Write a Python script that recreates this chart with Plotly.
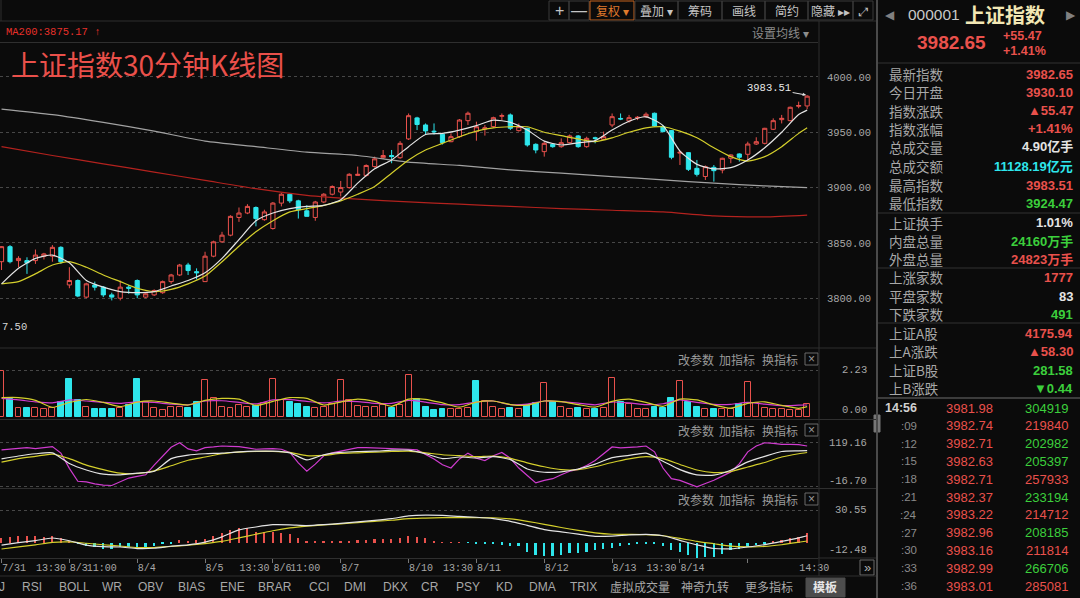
import plotly.graph_objects as go

W, H = 1080, 598

# colours
BG = '#0b0b0b'
RED = '#e9514c'
DARKRED = '#b3221e'
CYAN = '#2ee6ec'
GREEN = '#3ccf3c'
WHITE = '#e4e4e4'
YELLOW = '#d4cf2c'
MAGENTA = '#d03cd0'
GREY = '#a2a2a2'
GRID = '#474747'
LINE = '#2f2f2f'
AXIS_TXT = '#a8a8a8'
LABEL_TXT = '#a8a8a8'

MONO = 'Liberation Mono, DejaVu Sans Mono, monospace'
SANS = 'Liberation Sans, Arial, sans-serif'
CJK = 'Noto Sans CJK SC, sans-serif'

# ---- 30 minute bars ----
bar_open = [3833, 3846.6, 3834, 3834, 3834, 3838, 3838, 3846, 3812, 3816,
            3801, 3812, 3810, 3803, 3800, 3810, 3816, 3801, 3803, 3805,
            3815, 3821, 3830, 3824, 3815, 3838, 3851, 3857, 3873, 3877,
            3882, 3871, 3863, 3886, 3894, 3888, 3879, 3873, 3887, 3894,
            3896, 3900, 3911, 3911, 3919, 3927, 3929, 3927, 3944, 3963,
            3956.6, 3951, 3948.2, 3941.5, 3946, 3960.5, 3950.6, 3953, 3955.1, 3964.5,
            3965.7, 3951.5, 3953.6, 3939.1, 3932.5, 3939.1, 3937, 3940.6, 3946.7, 3937,
            3945, 3943.6, 3956.6, 3962.5, 3960.2, 3962.9, 3964.1, 3967.2, 3955.1, 3951.5,
            3931.2, 3931.6, 3917.4, 3910, 3918.3, 3915.9, 3926.5, 3930.4, 3930.1, 3939.4,
            3940, 3952.7, 3961.4, 3960.5, 3973.5, 3973.8]
bar_high = [3847, 3848, 3838, 3837, 3844, 3841, 3848, 3847, 3828, 3817,
            3814, 3815, 3811, 3805, 3816, 3812, 3817, 3805, 3808, 3816,
            3822, 3831, 3832, 3827, 3842, 3852, 3860, 3875, 3882, 3885,
            3883, 3880, 3887, 3895, 3895, 3889, 3884, 3888, 3895, 3902,
            3906, 3913, 3919, 3921, 3928, 3934, 3934, 3942, 3967, 3964,
            3958, 3958, 3949, 3949, 3962, 3968.7, 3959.6, 3956.6, 3964.1, 3967,
            3967, 3958, 3954, 3940, 3941.5, 3940, 3944.5, 3948, 3947.5, 3946,
            3946, 3950.6, 3967, 3967, 3965.7, 3964.7, 3968, 3967.8, 3956.6, 3952,
            3933.4, 3932, 3925, 3920, 3920.4, 3927, 3930, 3931, 3941.5, 3945.5,
            3954, 3962.6, 3965.7, 3973.2, 3977.7, 3983.51]
bar_low = [3825.5, 3831.5, 3828, 3822, 3831, 3835, 3833, 3831, 3809, 3801,
           3800, 3807, 3801, 3798, 3798, 3804, 3800, 3800, 3802, 3804,
           3813, 3820, 3821, 3817, 3815, 3837, 3850, 3856, 3869, 3876,
           3865, 3870, 3862, 3883, 3886, 3872, 3874, 3870, 3886, 3893,
           3892, 3899, 3911, 3910, 3918, 3926, 3922, 3926, 3943, 3952,
           3947.6, 3948, 3939, 3941, 3945, 3956.6, 3942.4, 3947, 3954, 3961,
           3952, 3950.6, 3937, 3931, 3928, 3936, 3936, 3940, 3936, 3936,
           3940, 3943, 3954.5, 3961, 3958.7, 3961, 3963, 3955, 3950, 3925.6,
           3920.4, 3915, 3910, 3906.9, 3905.4, 3912.9, 3922, 3923.5, 3924.47, 3938.5,
           3939, 3952, 3958, 3960, 3971.7, 3970.8]
bar_close = [3846.6, 3833, 3836, 3832, 3839, 3840, 3846, 3833, 3816, 3802,
             3813, 3810, 3803, 3801, 3810, 3809, 3803, 3804, 3807, 3815,
             3821, 3830, 3825, 3823, 3838, 3851, 3857, 3874, 3877, 3883,
             3872, 3878, 3886, 3894, 3888, 3880, 3874, 3887, 3894, 3901,
             3900, 3912, 3912, 3920, 3926, 3929, 3928, 3940, 3965, 3957,
             3951.2, 3950.5, 3940.6, 3946, 3961.1, 3967.2, 3955, 3954, 3963.2, 3965,
             3953.6, 3955.1, 3938.5, 3934, 3940, 3937, 3940.6, 3946.7, 3937, 3944.5,
             3944.5, 3946, 3964.1, 3962, 3963.2, 3963.5, 3966.3, 3955.7, 3950.6, 3927.4,
             3931.9, 3916.5, 3912, 3918.9, 3915.3, 3926.5, 3929.5, 3927.4, 3939.4, 3941.5,
             3953.6, 3960.5, 3962.6, 3972.6, 3974.2, 3982.65]
bar_idx = list(range(len(bar_close)))

# volume (亿), 1 = red bar, 0 = cyan bar
vol = [2.18, 0.85, 0.46, 0.42, 0.42, 0.39, 0.42, 0.74, 1.81, 0.82,
       0.50, 0.38, 0.38, 0.38, 0.42, 0.58, 1.81, 0.71, 0.46, 0.35,
       0.50, 0.50, 0.46, 0.71, 1.76, 0.89, 0.50, 0.46, 0.58, 0.50,
       0.53, 0.66, 1.81, 0.82, 0.71, 0.61, 0.47, 0.46, 0.50, 0.61,
       1.76, 0.82, 0.53, 0.50, 0.50, 0.58, 0.46, 0.58, 2.00, 0.85,
       0.50, 0.35, 0.39, 0.39, 0.39, 0.42, 1.71, 0.77, 0.50, 0.39,
       0.46, 0.39, 0.58, 0.66, 1.60, 0.71, 0.50, 0.39, 0.46, 0.39,
       0.39, 0.42, 1.84, 0.74, 0.61, 0.39, 0.39, 0.50, 0.46, 0.89,
       1.73, 0.74, 0.47, 0.39, 0.39, 0.39, 0.39, 0.61, 1.68, 0.66,
       0.42, 0.39, 0.39, 0.35, 0.35, 0.61]
vol_up = [1, 0, 1, 0, 1, 1, 1, 0, 0, 0,
          1, 0, 0, 0, 1, 0, 0, 1, 1, 1,
          1, 1, 0, 0, 1, 1, 1, 1, 1, 1,
          0, 1, 1, 1, 0, 0, 0, 1, 1, 1,
          1, 1, 1, 1, 1, 1, 0, 1, 1, 0,
          0, 0, 0, 1, 1, 1, 0, 1, 1, 1,
          0, 1, 0, 0, 1, 0, 1, 1, 0, 1,
          0, 1, 1, 0, 1, 1, 1, 0, 0, 0,
          1, 0, 0, 1, 0, 1, 1, 0, 1, 1,
          1, 1, 1, 1, 1, 1]

# sampled indicator lines (bar index -> value)
ma_idx = [0, 2, 4, 6, 8, 10, 12, 14, 16, 18, 20, 22, 24, 26, 28, 30, 32, 34, 36, 38,
          40, 42, 44, 46, 48, 50, 52, 54, 56, 58, 60, 62, 64, 66, 68, 70, 72, 74, 76, 78,
          80, 82, 84, 86, 88, 90, 92, 94, 95]
ma5 = [3813, 3827, 3836, 3839, 3832, 3816, 3810, 3806, 3805, 3806,
       3811, 3816, 3823, 3836, 3853, 3870, 3877, 3881, 3883, 3884,
       3889, 3904, 3917, 3925, 3937, 3948, 3949, 3952, 3956, 3961,
       3959, 3952, 3942, 3938.5, 3940.5, 3942.5, 3952, 3960, 3964, 3956,
       3933, 3921, 3917, 3918, 3925, 3936, 3950, 3966, 3970]
ma10 = [3813, 3815, 3822, 3830, 3833, 3828, 3821, 3815, 3809, 3806,
        3808, 3813, 3820, 3833, 3847, 3860, 3870, 3878, 3881, 3884,
        3888, 3894, 3901, 3913, 3925, 3934, 3940, 3946, 3951, 3954,
        3955, 3955, 3950, 3947, 3944, 3941.5, 3945, 3950, 3954, 3955,
        3951, 3945, 3936, 3928, 3924, 3928, 3937, 3949, 3954]
long_idx = [0, 6, 12, 18, 24, 30, 36, 42, 48, 54, 60, 66, 72, 78, 84, 90, 95]
ma60 = [3971, 3966, 3959, 3951, 3942, 3937, 3932, 3929, 3923, 3920,
        3916, 3913, 3910, 3907, 3904, 3901.5, 3900]
ma200 = [3937, 3929, 3921.5, 3914, 3906.5, 3899, 3893, 3889.5, 3887, 3885,
         3883, 3881, 3879.5, 3878, 3874.5, 3873.5, 3875.17]

vol_ma5 = [0.93, 0.93, 0.80, 0.47, 0.70, 0.84, 0.70, 0.50, 0.72, 0.77,
           0.67, 0.58, 0.80, 0.89, 0.86, 0.56, 0.75, 0.93, 0.89, 0.58,
           0.72, 0.86, 0.75, 0.52, 0.86, 0.85, 0.68, 0.48, 0.72, 0.77,
           0.60, 0.57, 0.77, 0.74, 0.60, 0.48, 0.75, 0.86, 0.70, 0.52,
           0.86, 0.82, 0.58, 0.43, 0.66, 0.73, 0.56, 0.42, 0.50]
vol_ma10 = [0.89, 0.82, 0.73, 0.68, 0.82, 0.77, 0.70, 0.66, 0.73, 0.70,
            0.62, 0.59, 0.77, 0.78, 0.70, 0.63, 0.82, 0.83, 0.75, 0.68,
            0.76, 0.74, 0.66, 0.66, 0.80, 0.72, 0.60, 0.60, 0.72, 0.77,
            0.60, 0.62, 0.77, 0.74, 0.67, 0.59, 0.72, 0.68, 0.60, 0.64,
            0.82, 0.70, 0.61, 0.61, 0.70, 0.62, 0.55, 0.57, 0.58]

kdj_k = [69, 78, 85, 88, 55, 35, 22, 20, 25, 31,
         70, 81, 85, 87, 91, 93, 93, 88, 66, 82,
         89, 92, 93, 96, 96, 85, 70, 75, 72, 76,
         67, 38, 28, 29, 38, 53, 73, 80, 87, 62,
         36, 20, 19, 34, 60, 77, 92, 94, 95]
kdj_d = [59, 70, 77, 84, 70, 50, 36, 25, 24, 32,
         48, 65, 75, 85, 90, 92, 92, 89, 79, 80,
         86, 88, 90, 92, 93, 88, 82, 79, 76, 78,
         71, 57, 45, 36, 36, 45, 58, 69, 76, 70,
         52, 35, 27, 30, 44, 58, 75, 85, 89]
kdj_j = [97, 100, 103, 104, 101, 104, 107, 87, 40, 0,
         -2, -8, -12, -13, -2, 10, 15, 20, 50, 78,
         105, 119, 100, 94, 104, 106, 109, 108, 107, 103,
         99, 100, 101, 99, 89, 57, 31, 53, 79, 88,
         94, 100, 104, 104, 103, 103, 103, 101, 99, 97,
         84, 69, 51, 41, 69, 87, 71, 64, 79, 89,
         71, 41, 18, -5, 3, 8, 20, 31, 37, 49,
         64, 84, 106, 103, 104, 106, 109, 91, 41, 8,
         3, -7, -17, -7, 3, 16, 29, 54, 91, 109,
         119, 117, 114, 114, 113, 109]

macd_dif = [-2.2, 0, 2, 4.4, 1.8, -2.2, -3.7, -4.0, -5.5, -5.2,
            -3.3, -2.0, 0.6, 5.5, 12, 14.7, 16.8, 16.7, 16.0, 16.8,
            18.1, 19.4, 20.8, 22.5, 25, 25.8, 25.5, 24.6, 23.8, 22.5,
            20, 16.2, 12.3, 10.1, 8, 6, 6.2, 7.2, 7.8, 6.5,
            2.2, -2.1, -5.4, -5.7, -4, -1.8, 1.2, 4.5, 6.5]
macd_dea = [-5.9, -3.9, -2, 0.3, 0.7, -0.5, -1.9, -3.1, -4.5, -4.5,
            -3.5, -2.4, -0.8, 1.2, 4.5, 7.9, 11.2, 13.8, 15.5, 16.7,
            17.6, 18.8, 20, 21, 22.5, 23, 23.4, 23.4, 23.4, 23.3,
            22.3, 20, 17.2, 14.2, 11.5, 9.2, 7.9, 7.8, 7.6, 6.5,
            4.1, 1.2, -1, -3.2, -3.8, -3.5, -1.9, 0.4, 1.6]
macd_hist = [4.7, 5.6, 6.5, 6.5, 6.5, 5.6, 6.5, 4.1, 0.9, -1.6,
             -3.1, -3.7, -5.9, -5.9, -3.7, -3.7, -5.3, -3.7, -3.1, -1.6,
             -0.3, 2.5, 1.6, 2.5, 3.1, 6.2, 8.7, 11.8, 13.4, 13.4,
             10.3, 9.7, 9.7, 8.7, 7.8, 4.7, 1.6, 0.9, 0.9, 0.9,
             1.6, 1.6, 2.5, 2.5, 3.1, 3.1, 3.4, 4.7, 6.2, 5.6,
             4.7, 1.6, 0.4, 0.3, 0.1, -0.1, -0.8, -1.0, -1.5, -1.8,
             -3.4, -2.8, -9.0, -11.5, -12.2, -12.5, -11.5, -10.0, -10.0, -8.4,
             -6.9, -5.9, -4.7, -3.1, -2.2, -1.6, -1.2, -1.2, -2.8, -6.9,
             -8.4, -11.5, -14.0, -13.4, -13.0, -11.0, -6.9, -5.9, -3.7, -2.2,
             -0.5, 0.9, 2.5, 4.1, 5.6, 8.7]

# axis labels
price_ticks = [3800, 3850, 3900, 3950, 4000]
day_start_idx = [0, 8, 16, 24, 32, 40, 48, 56, 64, 72, 80, 88]
x_tick_idx = [0, 4, 8, 10, 16, 24, 28, 32, 34, 40, 48, 52, 56, 64, 72, 76, 80, 94]
x_tick_text = ['7/31', '13:30', '8/3', '11:00', '8/4', '8/5', '13:30', '8/6', '11:00', '8/7',
               '8/10', '13:30', '8/11', '8/12', '8/13', '13:30', '8/14', '14:30']

# right hand quote panel
quote_labels = ['最新指数', '今日开盘', '指数涨跌', '指数涨幅', '总成交量', '总成交额', '最高指数', '最低指数',
                '上证换手', '内盘总量', '外盘总量', '上涨家数', '平盘家数', '下跌家数',
                '上证A股', '上A涨跌', '上证B股', '上B涨跌']
quote_values = ['3982.65', '3930.10', '▲55.47', '+1.41%', '4.90亿手', '11128.19亿元', '3983.51', '3924.47',
                '1.01%', '24160万手', '24823万手', '1777', '83', '491',
                '4175.94', '▲58.30', '281.58', '▼0.44']
quote_colors = ['r', 'r', 'r', 'r', 'w', 'c', 'r', 'g', 'w', 'g', 'r', 'r', 'w', 'g', 'r', 'r', 'g', 'g']
quote_rows_y = [74, 92, 111, 129, 147, 166, 185, 203, 223, 241, 259, 277, 296, 314, 333, 351, 370, 388]

tick_times = ['14:56', ':09', ':12', ':15', ':18', ':21', ':24', ':27', ':30', ':33', ':36']
tick_prices = ['3981.98', '3982.74', '3982.71', '3982.63', '3982.71', '3982.37',
               '3983.22', '3982.96', '3983.16', '3982.99', '3983.01']
tick_vols = ['304919', '219840', '202982', '205397', '257933', '233194',
             '214712', '208185', '211814', '266706', '285081']
tick_vol_colors = ['g', 'r', 'g', 'g', 'r', 'g', 'r', 'g', 'r', 'g', 'r']

tabs = ['J', 'RSI', 'BOLL', 'WR', 'OBV', 'BIAS', 'ENE', 'BRAR', 'CCI', 'DMI', 'DKX', 'CR',
        'PSY', 'KD', 'DMA', 'TRIX', '虚拟成交量', '神奇九转', '更多指标', '模板']
tab_x = [2, 32, 74, 112, 150, 191, 232, 275, 319, 355, 395, 430, 468, 504, 542, 583, 640, 705, 769, 825]

COL = {'r': RED, 'g': GREEN, 'w': WHITE, 'c': CYAN}


def px(x):
    return x / W


def py(y):
    return 1 - y / H


annotations = []
shapes = []


def text(x, y, s, size=12, color=LABEL_TXT, family=CJK, anchor='center', weight='normal'):
    annotations.append(dict(x=px(x), y=py(y), xref='paper', yref='paper', text=s, showarrow=False,
                            xanchor=anchor, yanchor='middle',
                            font=dict(size=size, color=color, family=family, weight=weight)))


def hline(y, x0, x1, color=LINE, width=1):
    shapes.append(dict(type='line', xref='paper', yref='paper', x0=px(x0), x1=px(x1), y0=py(y), y1=py(y),
                       line=dict(color=color, width=width)))


def vline(x, y0, y1, color=LINE, width=1):
    shapes.append(dict(type='line', xref='paper', yref='paper', x0=px(x), x1=px(x), y0=py(y0), y1=py(y1),
                       line=dict(color=color, width=width)))


def box(x0, y0, x1, y1, color=LINE, fill=None):
    shapes.append(dict(type='rect', xref='paper', yref='paper', x0=px(x0), x1=px(x1), y0=py(y1), y1=py(y0),
                       line=dict(color=color, width=1), fillcolor=fill, layer='below'))


fig = go.Figure()

# main k-line panel
fig.add_trace(go.Candlestick(
    x=bar_idx, open=bar_open, high=bar_high, low=bar_low, close=bar_close,
    increasing=dict(line=dict(color=RED, width=1), fillcolor=BG),
    decreasing=dict(line=dict(color=CYAN, width=1), fillcolor=CYAN),
    hoverinfo='skip', showlegend=False, xaxis='x', yaxis='y'))
for xs, ys, c in [(long_idx, ma200, DARKRED), (long_idx, ma60, GREY), (ma_idx, ma10, YELLOW), (ma_idx, ma5, WHITE)]:
    fig.add_trace(go.Scatter(x=xs, y=ys, mode='lines', line=dict(color=c, width=1.2, shape='spline', smoothing=0.6),
                             hoverinfo='skip', showlegend=False, xaxis='x', yaxis='y'))

# volume panel
fig.add_trace(go.Bar(
    x=bar_idx, y=vol, width=0.7,
    marker=dict(color=[BG if u else CYAN for u in vol_up],
                line=dict(color=[RED if u else CYAN for u in vol_up], width=1)),
    hoverinfo='skip', showlegend=False, xaxis='x2', yaxis='y2'))
for ys, c in [(vol_ma10, MAGENTA), (vol_ma5, YELLOW)]:
    fig.add_trace(go.Scatter(x=ma_idx, y=ys, mode='lines', line=dict(color=c, width=1.2, shape='spline', smoothing=0.6),
                             hoverinfo='skip', showlegend=False, xaxis='x2', yaxis='y2'))

# KDJ panel
fig.add_trace(go.Scatter(x=bar_idx, y=kdj_j, mode='lines', line=dict(color=MAGENTA, width=1.2),
                         hoverinfo='skip', showlegend=False, xaxis='x3', yaxis='y3'))
for ys, c in [(kdj_d, YELLOW), (kdj_k, WHITE)]:
    fig.add_trace(go.Scatter(x=ma_idx, y=ys, mode='lines', line=dict(color=c, width=1.2, shape='spline', smoothing=0.6),
                             hoverinfo='skip', showlegend=False, xaxis='x3', yaxis='y3'))

# MACD panel
fig.add_trace(go.Bar(x=bar_idx, y=macd_hist, width=0.2,
                     marker=dict(color=[RED if v > 0 else CYAN for v in macd_hist], line=dict(width=0)),
                     hoverinfo='skip', showlegend=False, xaxis='x4', yaxis='y4'))
for ys, c in [(macd_dea, YELLOW), (macd_dif, WHITE)]:
    fig.add_trace(go.Scatter(x=ma_idx, y=ys, mode='lines', line=dict(color=c, width=1.2, shape='spline', smoothing=0.6),
                             hoverinfo='skip', showlegend=False, xaxis='x4', yaxis='y4'))

# ---- axes ----
xr = [-0.18, 96.28]
xdom = [0, px(818)]
hidden = dict(showgrid=False, zeroline=False, showticklabels=False, ticks='', showline=False,
              fixedrange=True, automargin=False)
grid = dict(showgrid=True, gridcolor=GRID, griddash='dot', gridwidth=1, zeroline=False, showline=False,
            ticks='', fixedrange=True, automargin=False, tickmode='array')

layout_axes = dict(
    xaxis=dict(hidden, domain=xdom, range=xr, anchor='y', rangeslider=dict(visible=False)),
    xaxis2=dict(hidden, domain=xdom, range=xr, anchor='y2'),
    xaxis3=dict(hidden, domain=xdom, range=xr, anchor='y3'),
    xaxis4=dict(domain=xdom, range=xr, anchor='y4', showgrid=False, zeroline=False, fixedrange=True,
                automargin=False, showline=True, linecolor=LINE, linewidth=1,
                tickmode='array', tickvals=x_tick_idx, ticktext=x_tick_text, ticks='', tickangle=0,
                ticklabelposition='outside right', tickfont=dict(family=MONO, size=10, color=AXIS_TXT),
                minor=dict(tickmode='array', tickvals=day_start_idx, ticks='outside', ticklen=4,
                           tickcolor='#777777', showgrid=False)),
    yaxis=dict(grid, domain=[py(347), py(44)], range=[3755.9, 4029.8], anchor='free', position=px(871),
               side='left', tickvals=price_ticks, ticktext=[f'{v:.2f}' for v in price_ticks],
               tickfont=dict(family=MONO, size=10.5, color=AXIS_TXT)),
    yaxis2=dict(grid, domain=[py(419), py(352)], range=[-0.08, 3.08], anchor='x2', tickvals=[2.23],
                showticklabels=False),
    yaxis3=dict(grid, domain=[py(489), py(422)], range=[-23.8, 183.1], anchor='x3', tickvals=[119.16, -16.70],
                showticklabels=False),
    yaxis4=dict(grid, domain=[py(558), py(492)], range=[-14.29, 47.37], anchor='x4', tickvals=[30.55],
                showticklabels=False),
)

# sub-panel axis labels
for yref, v, shift in [('y2', 2.23, 0), ('y2', 0, 7), ('y3', 119.16, 0), ('y3', -16.70, 6),
                       ('y4', 30.55, 0), ('y4', -12.48, 6)]:
    annotations.append(dict(x=px(869), y=v, xref='paper', yref=yref, yshift=shift, text=f'{v:.2f}',
                            showarrow=False, xanchor='right', yanchor='middle',
                            font=dict(family=MONO, size=10.5, color=AXIS_TXT)))

# ---- frame lines ----
hline(21, 0, 876)
hline(42.5, 0, 818)
hline(348, 0, 876)
hline(419.5, 0, 876)
hline(488.5, 0, 876)
hline(558, 818, 876)
hline(576, 0, 876)
vline(819, 21, 576)
vline(877, 0, 598, color='#4a4a4a', width=2)
vline(1, 0, 21)

# toolbar
toolbar = [('+', 549, 569), ('—', 569, 589), ('复权 ▾', 590, 634), ('叠加 ▾', 635, 678), ('筹码', 678, 722),
           ('画线', 722, 765), ('简约', 765, 808), ('隐藏 ▸▸', 808, 853), ('⤢', 853, 873)]
for label, x0, x1 in toolbar:
    hot = label.startswith('复权')
    box(x0, 1, x1, 20, color='#c8641e' if hot else '#3a3a3a')
    text((x0 + x1) / 2, 11, label, size=16 if label in ('+', '—') else 12,
         color='#e07a2c' if hot else '#c4c4c4', family=SANS if label in ('+', '—') else CJK)

text(4, 32, f'MA200:{ma200[-1]:.2f} ↑', size=10.5, color='#e8302a', family=MONO, anchor='left')
text(780, 33, '设置均线 ▾', size=12, color='#8c8c8c')
text(9, 64, '上证指数30分钟K线图', size=28, color='#ea504a', anchor='left')
text(0, 327, '7.50', size=10.5, color='#d8d8d8', family=MONO, anchor='left')

annotations.append(dict(x=bar_idx[-1], y=max(bar_high), xref='x', yref='y', text=f'{max(bar_high):.2f}',
                        showarrow=True, ax=-38, ay=-7, arrowhead=2, arrowsize=0.7, arrowwidth=1,
                        arrowcolor='#e0e0e0', standoff=1,
                        font=dict(family=MONO, size=10.5, color='#e8e8e8')))

# panel headers
for y in [359, 430, 499]:
    text(696, y, '改参数', size=12, color='#9a9a9a')
    text(737, y, '加指标', size=12, color='#9a9a9a')
    text(780, y, '换指标', size=12, color='#9a9a9a')
    box(805, y - 6, 818, y + 6, color='#6a6a6a')
    text(811.5, y, '×', size=12, color='#9a9a9a', family=SANS)

box(860, 560, 874, 575, color='#6a6a6a')
text(867, 567.5, '»', size=13, color='#b0b0b0', family=SANS)

# bottom tab bar
box(806, 578, 845, 597, color='#4d4d4d', fill='#4d4d4d')
for t, x in zip(tabs, tab_x):
    text(x, 587, t, size=12, color='#e8e8e8' if t == '模板' else '#a8a8a8',
         family=SANS + ', ' + CJK, weight='bold' if t == '模板' else 'normal')

# ---- right quote panel ----
text(890, 15, '◀', size=12, color='#808080', family=SANS)
text(934, 15, '000001', size=15.5, color='#c8c8c8', family=SANS)
text(1005, 15, '上证指数', size=20, color='#f2e7b4', weight='bold')
text(1071, 15, '▶', size=12, color='#808080', family=SANS)
text(951, 43, quote_values[0], size=19, color=RED, family=SANS, weight='bold')
text(1001, 36, '+55.47', size=12.5, color=RED, family=SANS, weight='bold', anchor='left')
text(1001, 51, '+1.41%', size=12.5, color=RED, family=SANS, weight='bold', anchor='left')

for y in [63, 213, 268, 323]:
    hline(y, 878, 1080, color='#333333')
hline(398, 878, 1080, color='#3c3c3c', width=2)

for lab, val, c, y in zip(quote_labels, quote_values, quote_colors, quote_rows_y):
    text(887, y, lab, size=13.5, color=LABEL_TXT, anchor='left')
    text(1075, y, val, size=13, color=COL[c], family=SANS + ', ' + CJK, weight='bold', anchor='right')

for i, (t, p, v, c) in enumerate(zip(tick_times, tick_prices, tick_vols, tick_vol_colors)):
    y = 408 + i * 17.8
    text(919, y, t, size=12.5 if i == 0 else 11.5, color='#d0d0d0' if i == 0 else '#8a8a8a',
         family=SANS, anchor='right', weight='bold' if i == 0 else 'normal')
    text(995, y, p, size=13, color=RED, family=SANS, anchor='right')
    text(1070, y, v, size=13, color=COL[c], family=SANS, anchor='right')

box(874, 415, 880, 432, color='#777777', fill='#777777')

fig.update_layout(
    width=W, height=H, template='none',
    paper_bgcolor=BG, plot_bgcolor=BG,
    margin=dict(l=0, r=0, t=0, b=0),
    showlegend=False, hovermode=False,
    boxgap=0.3, bargap=0,
    annotations=annotations, shapes=shapes,
    **layout_axes,
)

# the page body has a default 8px margin; drop it so the figure fills the window
fig.write_html('out.html', config={'displayModeBar': False},
               post_script="document.body.style.margin='0';document.body.style.background='#0b0b0b';")
